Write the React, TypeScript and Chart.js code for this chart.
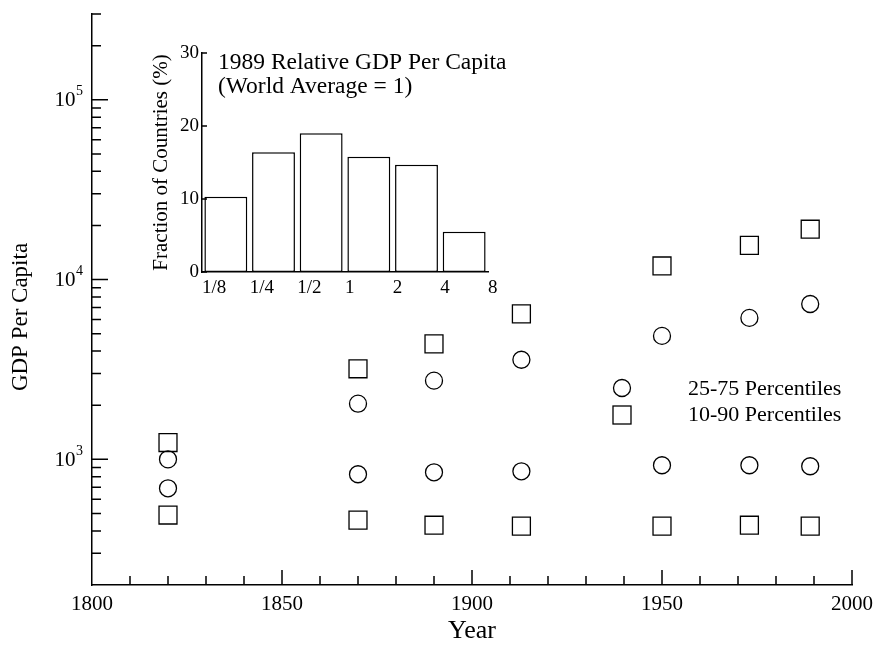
import React, { useEffect, useRef } from 'react';
import { Chart, registerables } from 'chart.js';

Chart.register(...registerables);

// ---------- data ----------
const years = [1820, 1870, 1890, 1913, 1950, 1973, 1989];
const p10 = [490, 459, 430, 425, 425, 430, 425];
const p25 = [690, 826, 847, 858, 927, 927, 915];
const p75 = [1000, 2040, 2740, 3580, 4860, 6120, 7310];
const p90 = [1240, 3190, 4390, 6440, 11900, 15500, 19050];

const xMin = 1800;
const xMax = 2000;
const xMajorStep = 50;
const xMinorStep = 10;
const yMin = 200;
const yMax = 300000;
const yDecades = [1000, 10000, 100000];
const yDecadeExponents = ['3', '4', '5'];

const histBinLabels = ['1/8', '1/4', '1/2', '1', '2', '4', '8'];
const histValues = [10.3, 16.4, 19.0, 15.8, 14.7, 5.5];
const histYTicks = [0, 10, 20, 30];
const insetTitle = ['1989 Relative GDP Per Capita', '(World Average = 1)'];
const legendLabels = ['25-75 Percentiles', '10-90 Percentiles'];

const FONT = "'Liberation Serif', 'Times New Roman', serif";

const mainDecor = {
  id: 'mainDecor',
  afterDraw(chart: any) {
    const { ctx, chartArea: ca, scales } = chart;
    const x = scales.x;
    const y = scales.y;
    ctx.save();
    ctx.strokeStyle = '#000';
    ctx.lineWidth = 1.5;
    ctx.beginPath();
    for (let v = xMin + xMinorStep; v <= xMax; v += xMinorStep) {
      const px = x.getPixelForValue(v);
      const len = v % xMajorStep === 0 ? 15 : 9;
      ctx.moveTo(px, ca.bottom);
      ctx.lineTo(px, ca.bottom - len);
    }
    for (let d = 100; d <= 100000; d *= 10) {
      for (let m = 1; m <= 9; m++) {
        const v = d * m;
        if (v <= yMin || v > yMax) continue;
        const py = y.getPixelForValue(v);
        const len = m === 1 ? 16 : 9;
        ctx.moveTo(ca.left, py);
        ctx.lineTo(ca.left + len, py);
      }
    }
    ctx.stroke();

    // y decade labels
    ctx.fillStyle = '#000';
    ctx.textBaseline = 'middle';
    yDecades.forEach((v, i) => {
      const py = y.getPixelForValue(v);
      ctx.font = `14px ${FONT}`;
      const sw = ctx.measureText(yDecadeExponents[i]).width;
      const right = 83;
      ctx.textAlign = 'right';
      ctx.fillText(yDecadeExponents[i], right, py - 8);
      ctx.font = `21px ${FONT}`;
      ctx.fillText('10', right - sw - 0.5, py + 1);
    });

    // y title
    ctx.save();
    ctx.translate(21, 317);
    ctx.rotate(-Math.PI / 2);
    ctx.textAlign = 'center';
    ctx.textBaseline = 'middle';
    ctx.font = `23px ${FONT}`;
    ctx.fillText('GDP Per Capita', 0, 0);
    ctx.restore();

    // legend
    ctx.lineWidth = 1.3;
    ctx.beginPath();
    ctx.arc(622, 388, 8.5, 0, Math.PI * 2);
    ctx.stroke();
    ctx.strokeRect(622 - 9, 415 - 9, 18, 18);
    ctx.font = `22px ${FONT}`;
    ctx.textAlign = 'left';
    ctx.textBaseline = 'middle';
    ctx.fillText(legendLabels[0], 688, 389);
    ctx.fillText(legendLabels[1], 688, 415);
    ctx.restore();
  },
};

const insetDecor = {
  id: 'insetDecor',
  afterDraw(chart: any) {
    const { ctx, chartArea: ca, scales } = chart;
    const y = scales.y;
    ctx.save();
    ctx.strokeStyle = '#000';
    ctx.lineWidth = 1.5;
    ctx.beginPath();
    histYTicks.forEach((v) => {
      const py = y.getPixelForValue(v);
      ctx.moveTo(ca.left, py);
      ctx.lineTo(ca.left + 5, py);
    });
    ctx.stroke();
    ctx.fillStyle = '#000';
    ctx.font = `23.5px ${FONT}`;
    ctx.textAlign = 'left';
    ctx.textBaseline = 'middle';
    ctx.fillText(insetTitle[0], 78, 33);
    ctx.fillText(insetTitle[1], 78, 57);
    ctx.restore();
  },
};

export default function App() {
  const mainRef = useRef<HTMLCanvasElement>(null);
  const insetRef = useRef<HTMLCanvasElement>(null);

  useEffect(() => {
    const border = { display: true, color: '#000', width: 1.5 };
    const main = new Chart(mainRef.current as HTMLCanvasElement, {
      type: 'scatter',
      data: {
        datasets: [
          {
            label: legendLabels[0],
            data: years.flatMap((yr, i) => [
              { x: yr, y: p25[i] },
              { x: yr, y: p75[i] },
            ]),
            pointStyle: 'circle',
            pointRadius: 8.5,
            borderColor: '#000',
            backgroundColor: 'rgba(0,0,0,0)',
            borderWidth: 1.3,
          },
          {
            label: legendLabels[1],
            data: years.flatMap((yr, i) => [
              { x: yr, y: p10[i] },
              { x: yr, y: p90[i] },
            ]),
            pointStyle: 'rect',
            pointRadius: 12.7,
            borderColor: '#000',
            backgroundColor: 'rgba(0,0,0,0)',
            borderWidth: 1.3,
          },
        ],
      },
      options: {
        animation: false,
        responsive: false,
        layout: { padding: { top: 10, right: 25, left: 0, bottom: 0 } },
        plugins: { legend: { display: false }, tooltip: { enabled: false } },
        scales: {
          x: {
            type: 'linear',
            min: xMin,
            max: xMax,
            ticks: {
              stepSize: xMajorStep,
              color: '#000',
              font: { family: FONT, size: 21 },
              padding: 7,
              maxRotation: 0,
              callback: (v: any) => String(v),
            },
            grid: { display: false, drawTicks: false },
            border,
            title: {
              display: true,
              text: 'Year',
              color: '#000',
              font: { family: FONT, size: 26 },
              padding: { top: 1, bottom: 1 },
            },
            afterFit(s: any) {
              s.height = 63;
            },
          },
          y: {
            type: 'logarithmic',
            min: yMin,
            max: yMax,
            ticks: { display: false },
            grid: { display: false, drawTicks: false },
            border,
            afterFit(s: any) {
              s.width = 92;
            },
          },
        },
      } as any,
      plugins: [mainDecor],
    });

    const inset = new Chart(insetRef.current as HTMLCanvasElement, {
      type: 'bar',
      data: {
        datasets: [
          {
            data: histValues.map((v, i) => ({ x: i + 0.5, y: v })),
            backgroundColor: '#fff',
            borderColor: '#000',
            borderWidth: 1.5,
            borderSkipped: false,
            barPercentage: 0.9,
            categoryPercentage: 1,
          },
        ],
      },
      options: {
        animation: false,
        responsive: false,
        layout: { padding: { top: 23, right: 32, left: 0, bottom: 0 } },
        plugins: { legend: { display: false }, tooltip: { enabled: false } },
        scales: {
          x: {
            type: 'linear',
            min: 0,
            max: histBinLabels.length - 1,
            offset: false,
            ticks: {
              stepSize: 1,
              autoSkip: false,
              maxRotation: 0,
              align: 'start',
              color: '#000',
              font: { family: FONT, size: 19 },
              padding: 5,
              callback: (v: any) => histBinLabels[Math.round(v)] ?? '',
            },
            grid: { display: false, drawTicks: false, offset: false },
            border,
            afterFit(s: any) {
              s.height = 28;
            },
          },
          y: {
            min: 0,
            max: 30,
            ticks: {
              stepSize: 10,
              color: '#000',
              font: { family: FONT, size: 19 },
              padding: 3,
            },
            grid: { display: false, drawTicks: false },
            border,
            title: {
              display: true,
              text: 'Fraction of Countries (%)',
              color: '#000',
              font: { family: FONT, size: 21 },
              padding: { top: 9, bottom: 0 },
            },
            afterFit(s: any) {
              s.width = 62;
            },
          },
        },
      } as any,
      plugins: [insetDecor],
    });

    return () => {
      main.destroy();
      inset.destroy();
    };
  }, []);

  return (
    <div style={{ position: 'absolute', left: 0, top: 0, width: 880, height: 648, background: '#fff' }}>
      <canvas ref={mainRef} width={880} height={648} style={{ position: 'absolute', left: 0, top: 0 }} />
      <canvas ref={insetRef} width={380} height={270} style={{ position: 'absolute', left: 140, top: 30 }} />
    </div>
  );
}
